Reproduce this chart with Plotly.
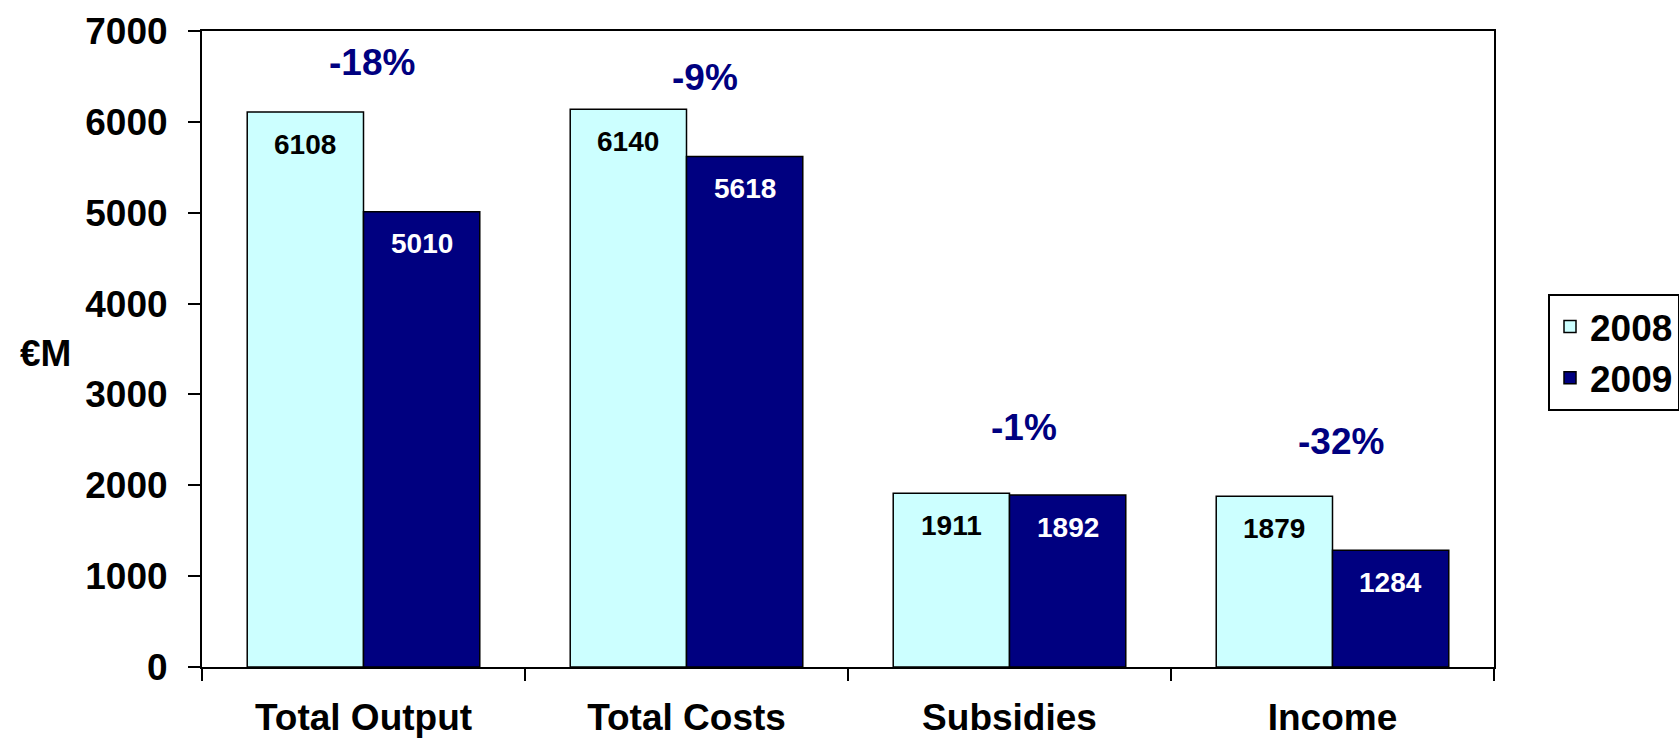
import plotly.graph_objects as go

categories = ["Total Output", "Total Costs", "Subsidies", "Income"]
values_2008 = [6108, 6140, 1911, 1879]
values_2009 = [5010, 5618, 1892, 1284]
y_ticks = [0, 1000, 2000, 3000, 4000, 5000, 6000, 7000]

# heights (in €M) and small horizontal nudges for the change labels
change_label_y = [6650, 6490, 2640, 2480]
change_label_dx = [8, 18, 14, 8]

FONT = "Liberation Sans, Arial, sans-serif"
LIGHT = "#CCFFFF"
NAVY = "#000080"
BARGAP = 0.28

fig = go.Figure()
fig.add_trace(go.Bar(
    name="2008", x=categories, y=values_2008,
    marker=dict(color=LIGHT, line=dict(color="black", width=1.5)),
))
fig.add_trace(go.Bar(
    name="2009", x=categories, y=values_2009,
    marker=dict(color=NAVY, line=dict(color="black", width=1.5)),
))

annotations = []
half = (1 - BARGAP) / 4  # half of one bar width, in category units
for i, (a, b) in enumerate(zip(values_2008, values_2009)):
    annotations.append(dict(
        x=i - half, y=a, xref="x", yref="y", text=f"<b>{a}</b>",
        showarrow=False, yshift=-32, yanchor="middle",
        font=dict(family=FONT, size=28, color="black"),
    ))
    annotations.append(dict(
        x=i + half, y=b, xref="x", yref="y", text=f"<b>{b}</b>",
        showarrow=False, yshift=-32, yanchor="middle",
        font=dict(family=FONT, size=28, color="white"),
    ))
    pct = round((b - a) / a * 100)
    annotations.append(dict(
        x=i, y=change_label_y[i], xref="x", yref="y", text=f"<b>{pct}%</b>",
        showarrow=False, xshift=change_label_dx[i], yanchor="middle",
        font=dict(family=FONT, size=37, color=NAVY),
    ))

# page geometry: margins around the plotting area
L, R, T, B = 202, 185, 31, 75
W, H = 1679, 742
pw, ph = W - L - R, H - T - B

# horizontal "€M" axis title left of the tick labels
annotations.append(dict(
    x=(45 - L) / pw, y=(H - B - 353) / ph, xref="paper", yref="paper",
    text="<b>€M</b>", showarrow=False, xanchor="center", yanchor="middle",
    font=dict(family=FONT, size=37, color="black"),
))

fig.update_layout(
    width=W, height=H,
    margin=dict(l=L, r=R, t=T, b=B, autoexpand=False),
    paper_bgcolor="white", plot_bgcolor="white",
    barmode="group", bargap=BARGAP, bargroupgap=0,
    font=dict(family=FONT, color="black"),
    showlegend=True,
    legend=dict(
        x=(1548 - L) / pw, y=(H - B - 294) / ph,
        xanchor="left", yanchor="top",
        bgcolor="white", bordercolor="black", borderwidth=2,
        font=dict(family=FONT, size=37, color="black", weight="bold"),
        itemwidth=30,
    ),
    annotations=annotations,
)
fig.update_xaxes(
    type="category", tickson="boundaries",
    ticks="outside", ticklen=12, tickwidth=1.5, tickcolor="black",
    showline=True, linecolor="black", linewidth=2, mirror=True,
    showgrid=False, zeroline=False,
    tickfont=dict(family=FONT, size=37, color="black", weight="bold"),
    ticklabelstandoff=17,
)
fig.update_yaxes(
    range=[0, 7000], tickvals=y_ticks,
    ticks="outside", ticklen=12, tickwidth=1.5, tickcolor="black",
    showline=True, linecolor="black", linewidth=2, mirror=True,
    showgrid=False, zeroline=False,
    tickfont=dict(family=FONT, size=37, color="black", weight="bold"),
    ticklabelstandoff=13,
)

fig.write_html("out.html")
